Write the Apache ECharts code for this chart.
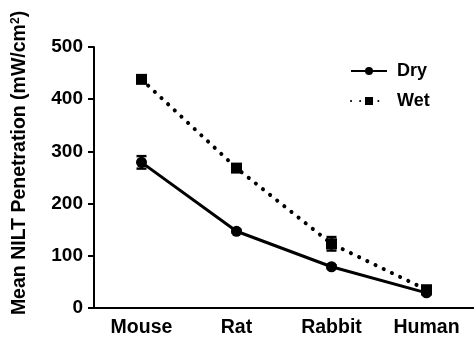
<!DOCTYPE html>
<html>
<head>
<meta charset="utf-8">
<script src="https://cdn.jsdelivr.net/npm/echarts@6/dist/echarts.min.js"></script>
<style>html,body{margin:0;padding:0;background:#fff;}#c{width:474px;height:341px;}</style>
</head>
<body>
<div id="c"></div>
<script>
const categories = ['Mouse', 'Rat', 'Rabbit', 'Human'];
const dryValues = [279, 147, 79, 29];
const dryErrors = [12, 3, 3, 3];
const wetValues = [438, 268, 123, 35];
const wetErrors = [3, 6, 13, 3];
const yMin = 0, yMax = 500, yInterval = 100;

const FONT = 'Liberation Sans, Arial, sans-serif';

function errData(vals, errs) {
  return vals.map((v, i) => [i, v - errs[i], v + errs[i]]);
}
function errRender(params, api) {
  const x = api.value(0);
  const lo = api.coord([x, api.value(1)]);
  const hi = api.coord([x, api.value(2)]);
  const hw = 5;
  const style = { stroke: '#000', lineWidth: 2.4 };
  return {
    type: 'group',
    children: [
      { type: 'line', shape: { x1: lo[0], y1: lo[1], x2: hi[0], y2: hi[1] }, style },
      { type: 'line', shape: { x1: lo[0] - hw, y1: lo[1], x2: lo[0] + hw, y2: lo[1] }, style },
      { type: 'line', shape: { x1: hi[0] - hw, y1: hi[1], x2: hi[0] + hw, y2: hi[1] }, style }
    ]
  };
}

const chart = echarts.init(document.getElementById('c'));
chart.setOption({
  animation: false,
  backgroundColor: '#fff',
  grid: { left: 94, top: 47, right: -12, bottom: 33 },
  legend: {
    data: ['Dry', 'Wet'],
    orient: 'vertical',
    left: 345, top: 57,
    itemWidth: 36, itemHeight: 10, itemGap: 12,
    textStyle: { fontFamily: FONT, fontWeight: 'bold', fontSize: 18, color: '#000', padding: [0,0,0,5] }
  },
  xAxis: {
    type: 'category',
    data: categories,
    boundaryGap: true,
    axisLine: { lineStyle: { color: '#000', width: 2 } },
    axisTick: { alignWithLabel: true, length: 6, lineStyle: { color: '#000', width: 2 } },
    axisLabel: { color: '#000', fontFamily: FONT, fontWeight: 'bold', fontSize: 19.5, margin: 10 },
    splitLine: { show: false }
  },
  yAxis: {
    type: 'value',
    min: yMin, max: yMax, interval: yInterval,
    axisLine: { show: true, lineStyle: { color: '#000', width: 2 } },
    axisTick: { show: true, length: 6, lineStyle: { color: '#000', width: 2 } },
    axisLabel: { color: '#000', fontFamily: FONT, fontWeight: 'bold', fontSize: 19, margin: 11 },
    splitLine: { show: false }
  },
  graphic: [{
    type: 'text',
    x: 20, y: 163,
    rotation: Math.PI / 2,
    style: {
      text: 'Mean NILT Penetration (mW/cm{s|2})',
      rich: { s: { fontSize: 12, verticalAlign: 'top', fontFamily: FONT, fontWeight: 'bold', padding: [0,0,8,0] } },
      fontFamily: FONT, fontWeight: 'bold', fontSize: 19.5, fill: '#000',
      align: 'center', verticalAlign: 'middle'
    }
  }],
  series: [
    {
      name: 'Dry', type: 'line', data: dryValues,
      symbol: 'circle', symbolSize: 11,
      itemStyle: { color: '#000' },
      lineStyle: { color: '#000', width: 3 },
      z: 3
    },
    {
      name: 'Wet', type: 'line', data: wetValues,
      symbol: 'rect', symbolSize: 11,
      itemStyle: { color: '#000' },
      lineStyle: { color: '#000', width: 4, type: [0.1, 9], cap: 'round' },
      z: 3
    },
    { type: 'custom', renderItem: errRender, data: errData(dryValues, dryErrors), z: 2, silent: true },
    { type: 'custom', renderItem: errRender, data: errData(wetValues, wetErrors), z: 2, silent: true }
  ]
});
</script>
</body>
</html>
